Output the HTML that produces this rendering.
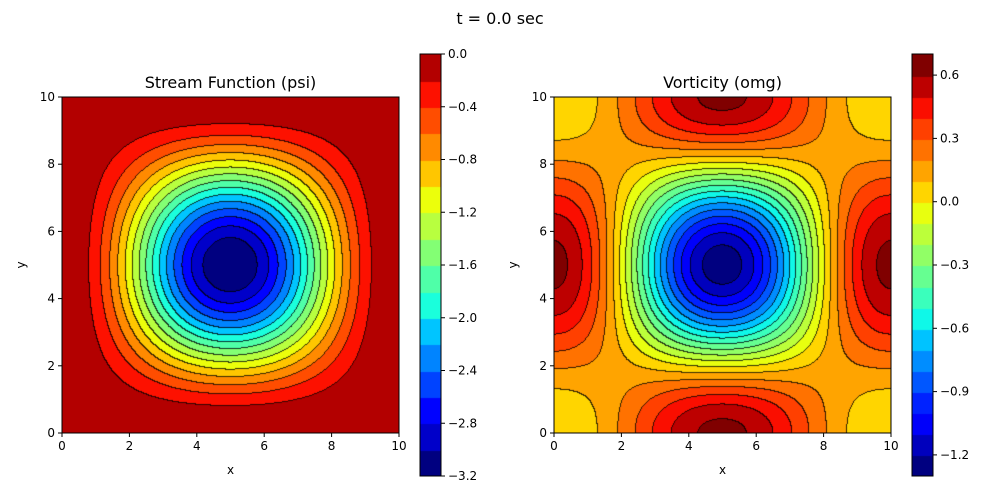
<!DOCTYPE html>
<html><head><meta charset="utf-8">
<style>
body{margin:0;background:#fff;width:1000px;height:500px;overflow:hidden;position:relative;font-family:"Liberation Sans","DejaVu Sans",sans-serif}
canvas{position:absolute}
svg{position:absolute;left:0;top:0}
text{font-family:"DejaVu Sans","Liberation Sans",sans-serif;fill:#000}
</style></head><body>
<canvas id="c1" style="left:62px;top:97px" width="337" height="336"></canvas>
<canvas id="c2" style="left:554px;top:97px" width="337" height="336"></canvas>
<canvas id="cb1" style="left:420px;top:54px" width="21" height="422"></canvas>
<canvas id="cb2" style="left:912px;top:54px" width="21" height="422"></canvas>
<svg id="s" width="1000" height="500"></svg>
<script>
// data
const domain = [0, 10];
const psiAmplitude = [3.2];
const psiLevels = [-3.2,-3.0,-2.8,-2.6,-2.4,-2.2,-2.0,-1.8,-1.6,-1.4,-1.2,-1.0,-0.8,-0.6,-0.4,-0.2,0.0];
const omgLevels = [-1.3,-1.2,-1.1,-1.0,-0.9,-0.8,-0.7,-0.6,-0.5,-0.4,-0.3,-0.2,-0.1,0.0,0.1,0.2,0.3,0.4,0.5,0.6,0.7];
const axisTicks = [0,2,4,6,8,10];
const psiCbTicks = [0.0,-0.4,-0.8,-1.2,-1.6,-2.0,-2.4,-2.8,-3.2];
const omgCbTicks = [0.6,0.3,0.0,-0.3,-0.6,-0.9,-1.2];

const L = domain[1]-domain[0];
const k = Math.PI/L;
function psi(x,y){const sx=Math.sin(k*x),sy=Math.sin(k*y);return -psiAmplitude[0]*sx*sx*sy*sy;}
function omg(x,y){const a=Math.cos(2*k*x),b=Math.cos(2*k*y);return psiAmplitude[0]*k*k*(a+b-2*a*b);}
const JR=[[0,0],[0.35,0],[0.66,1],[0.89,1],[1,0.5]];
const JG=[[0,0],[0.125,0],[0.375,1],[0.64,1],[0.91,0],[1,0]];
const JB=[[0,0.5],[0.11,1],[0.34,1],[0.65,0],[1,0]];
function seg(p,t){for(let i=0;i<p.length-1;i++){if(t<=p[i+1][0]){const f=(t-p[i][0])/(p[i+1][0]-p[i][0]);return p[i][1]+f*(p[i+1][1]-p[i][1]);}}return p[p.length-1][1];}
function jet(t){return [Math.round(255*seg(JR,t)),Math.round(255*seg(JG,t)),Math.round(255*seg(JB,t))];}
function band(v,lv){for(let i=0;i<lv.length-2;i++){if(v<lv[i+1])return i;}return lv.length-2;}
function drawField(id,f,lv,den){
  const cv=document.getElementById(id),ctx=cv.getContext('2d'),W=cv.width,H=cv.height;
  const img=ctx.createImageData(W,H),B=new Int16Array(W*H);
  for(let py=0;py<H;py++)for(let px=0;px<W;px++){
    const x=domain[0]+(px+0.5)/W*L,y=domain[1]-(py+0.5)/H*L;B[py*W+px]=band(f(x,y),lv);}
  for(let py=0;py<H;py++)for(let px=0;px<W;px++){
    const b=B[py*W+px];let col=jet(b/den);
    const r=px<W-1?B[py*W+px+1]:b,d=py<H-1?B[(py+1)*W+px]:b;
    if(r!==b||d!==b)col=col.map(c=>Math.round(c*0.2));
    const o=(py*W+px)*4;img.data[o]=col[0];img.data[o+1]=col[1];img.data[o+2]=col[2];img.data[o+3]=255;}
  ctx.putImageData(img,0,0);
}
function drawBar(id,lv,den){
  const cv=document.getElementById(id),ctx=cv.getContext('2d'),n=lv.length-1,H=cv.height;
  for(let i=0;i<n;i++){const c=jet(i/den);ctx.fillStyle=`rgb(${c})`;
    const y0=H-(i+1)*H/n;ctx.fillRect(0,Math.floor(y0),cv.width,Math.ceil(H/n)+1);}
}
const psiDen=(psiLevels.length-1)-0.3, omgDen=omgLevels.length-2;
drawField('c1',psi,psiLevels,psiDen);drawField('c2',omg,omgLevels,omgDen);
drawBar('cb1',psiLevels,psiDen);drawBar('cb2',omgLevels,omgDen);

const s=document.getElementById('s');const NS='http://www.w3.org/2000/svg';
function el(t,a,txt){const e=document.createElementNS(NS,t);for(const kk in a)e.setAttribute(kk,a[kk]);if(txt!==undefined)e.textContent=txt;s.appendChild(e);return e;}
function panel(x0,title,name){
  const y0=97,W=337,H=336;
  const fr=el('rect',{x:x0,y:y0,width:W,height:H,fill:'none',stroke:'#000','stroke-width':1});
  
  axisTicks.forEach(v=>{
    const px=x0+(v-domain[0])/L*W,py=y0+H-(v-domain[0])/L*H;
    el('line',{x1:px,y1:y0+H,x2:px,y2:y0+H+4,stroke:'#000'});
    const tx=el('text',{x:px,y:y0+H+17,'font-size':12,'text-anchor':'middle'},String(v));
    
    el('line',{x1:x0-4,y1:py,x2:x0,y2:py,stroke:'#000'});
    const ty=el('text',{x:x0-7,y:py+4,'font-size':12,'text-anchor':'end'},String(v));
    
  });
  const t=el('text',{x:x0+W/2,y:88,'font-size':16,'text-anchor':'middle'},title);
  
  const xl=el('text',{x:x0+W/2,y:474,'font-size':12,'text-anchor':'middle'},'x');
  
  const yl=el('text',{x:0,y:0,'font-size':12,'text-anchor':'middle',transform:`translate(${x0-37},265) rotate(-90)`},'y');
  
}
function cbar(x0,lv,ticks,name){
  const y0=54,H=422,W=21,lo=lv[0],hi=lv[lv.length-1];
  const r=el('rect',{x:x0,y:y0,width:W,height:H,fill:'none',stroke:'#000'});
  
  ticks.forEach(v=>{const py=y0+(hi-v)/(hi-lo)*H;
    el('line',{x1:x0+W,y1:py,x2:x0+W+4,y2:py,stroke:'#000'});
    const t=el('text',{x:x0+W+7,y:py+4,'font-size':12},v.toFixed(1).replace('-','−'));
    });
}
panel(62,'Stream Function (psi)','psi-panel');
panel(554,'Vorticity (omg)','omg-panel');
cbar(420,psiLevels,psiCbTicks,'psi-colorbar');
cbar(912,omgLevels,omgCbTicks,'omg-colorbar');
const st=el('text',{x:500,y:24,'font-size':16,'text-anchor':'middle'},'t = 0.0 sec');

</script>
</body></html>
